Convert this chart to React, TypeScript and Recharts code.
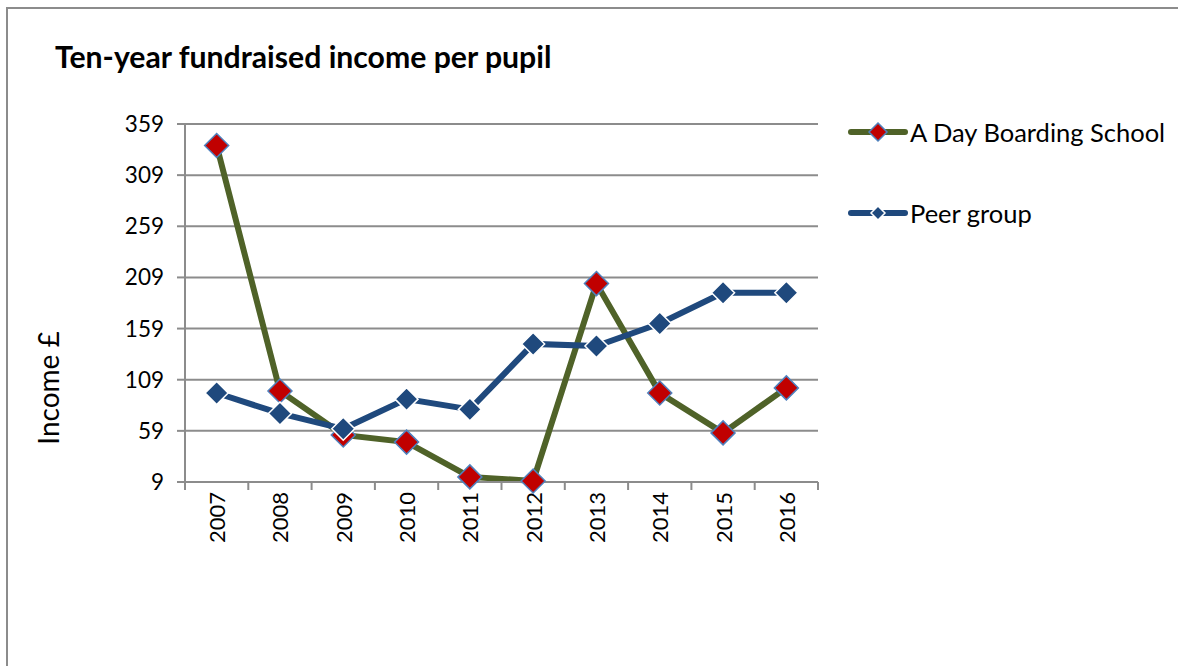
import React from 'react';
import { LineChart, Line, XAxis, YAxis, CartesianGrid, Legend } from 'recharts';

const years = ['2007', '2008', '2009', '2010', '2011', '2012', '2013', '2014', '2015', '2016'];
const schoolIncome = [338, 98, 55, 48, 14, 10, 203, 96, 57, 101];
const peerIncome = [96, 76, 61, 90, 80, 144, 142, 164, 194, 194];
const yTicks = [9, 59, 109, 159, 209, 259, 309, 359];

const FONT = 'Lato, "Open Sans", sans-serif';
const GRID = '#8C8C8C';
const GREEN = '#4F6228';
const NAVY = '#1F497D';
const BAND = 633 / years.length;

const data = years.map((year, i) => ({
  year,
  school: schoolIncome[i],
  peer: peerIncome[i],
}));

const Diamond = (fill: string, stroke: string, r: number) => (props: any) => {
  const { cx, cy } = props;
  if (cx == null || cy == null) return null;
  return (
    <polygon
      points={`${cx},${cy - r} ${cx + r},${cy} ${cx},${cy + r} ${cx - r},${cy}`}
      fill={fill}
      stroke={stroke}
      strokeWidth={1.5}
    />
  );
};

const YearTick = (props: any) => {
  const { x, y, payload, index } = props;
  const last = index === years.length - 1;
  return (
    <g>
      <line x1={x - BAND / 2} x2={x - BAND / 2} y1={y} y2={y + 8} stroke={GRID} strokeWidth={2} />
      {last && <line x1={x + BAND / 2} x2={x + BAND / 2} y1={y} y2={y + 8} stroke={GRID} strokeWidth={2} />}
      <text
        x={x}
        y={y + 10}
        transform={`rotate(-90 ${x} ${y + 10})`}
        textAnchor="end"
        dominantBaseline="central"
        fontFamily={FONT}
        fontSize={22}
        fill="#000"
      >
        {payload.value}
      </text>
    </g>
  );
};

const IncomeLabel = (props: any) => {
  const { viewBox } = props;
  const x = viewBox.x + 48;
  const y = viewBox.y + viewBox.height / 2 + 85;
  return (
    <text
      x={x}
      y={y}
      transform={`rotate(-90 ${x} ${y})`}
      textAnchor="middle"
      dominantBaseline="central"
      fontFamily={FONT}
      fontSize={28}
      fill="#000"
    >
      Income £
    </text>
  );
};

const LegendBox = () => (
  <div style={{ fontFamily: FONT, fontSize: 25.5, color: '#000', textAlign: 'left' }}>
    {[
      { label: 'A Day Boarding School', line: GREEN, fill: '#C00000', stroke: '#4F81BD', r: 9 },
      { label: 'Peer group', line: NAVY, fill: NAVY, stroke: '#fff', r: 7 },
    ].map((item, i) => (
      <div key={item.label} style={{ display: 'flex', alignItems: 'center', height: 40, marginBottom: i === 0 ? 41 : 0 }}>
        <svg width={60} height={24}>
          <line x1={3} x2={57} y1={12} y2={12} stroke={item.line} strokeWidth={6} strokeLinecap="round" />
          <polygon
            points={`30,${12 - item.r} ${30 + item.r},12 30,${12 + item.r} ${30 - item.r},12`}
            fill={item.fill}
            stroke={item.stroke}
            strokeWidth={1.5}
          />
        </svg>
        <span style={{ marginLeft: 2, whiteSpace: 'nowrap' }}>{item.label}</span>
      </div>
    ))}
  </div>
);

export default function App() {
  return (
    <div style={{ position: 'absolute', left: 0, top: 0, width: 1178, height: 666, background: '#fff', overflow: 'hidden' }}>
      <div
        style={{
          position: 'absolute',
          left: 6,
          top: 7,
          width: 1200,
          height: 700,
          borderLeft: `2px solid ${GRID}`,
          borderTop: `2px solid ${GRID}`,
        }}
      />
      <div
        style={{
          position: 'absolute',
          left: 55,
          top: 38,
          fontFamily: FONT,
          fontWeight: 700,
          fontSize: 30.2,
          lineHeight: '36px',
          color: '#000',
          whiteSpace: 'nowrap',
        }}
      >
        Ten-year fundraised income per pupil
      </div>
      <div style={{ position: 'absolute', left: 0, top: 0 }}>
        <LineChart width={1178} height={666} data={data} margin={{ top: 124, right: 360, bottom: 0, left: 0 }}>
          <CartesianGrid vertical={false} stroke={GRID} strokeWidth={2} />
          <XAxis
            dataKey="year"
            height={184}
            padding={{ left: BAND / 2, right: BAND / 2 }}
            axisLine={{ stroke: GRID, strokeWidth: 2 }}
            tickLine={false}
            tickSize={0}
            tickMargin={0}
            interval={0}
            tick={<YearTick />}
          />
          <YAxis
            width={185}
            domain={[9, 359]}
            ticks={yTicks}
            interval={0}
            axisLine={{ stroke: GRID, strokeWidth: 2 }}
            tickLine={{ stroke: GRID, strokeWidth: 2 }}
            tickSize={8}
            tickMargin={13}
            tick={{ fontFamily: FONT, fontSize: 22.5, fill: '#000' }}
            label={<IncomeLabel />}
          />
          <Legend
            layout="horizontal"
            verticalAlign="middle"
            align="center"
            content={<LegendBox />}
            wrapperStyle={{ left: 848, top: 112, width: 330 }}
          />
          <Line
            dataKey="school"
            name="A Day Boarding School"
            stroke={GREEN}
            strokeWidth={6}
            dot={Diamond('#C00000', '#4F81BD', 12)}
            activeDot={false}
            isAnimationActive={false}
          />
          <Line
            dataKey="peer"
            name="Peer group"
            stroke={NAVY}
            strokeWidth={6}
            dot={Diamond(NAVY, '#fff', 11.5)}
            activeDot={false}
            isAnimationActive={false}
          />
        </LineChart>
      </div>
    </div>
  );
}
